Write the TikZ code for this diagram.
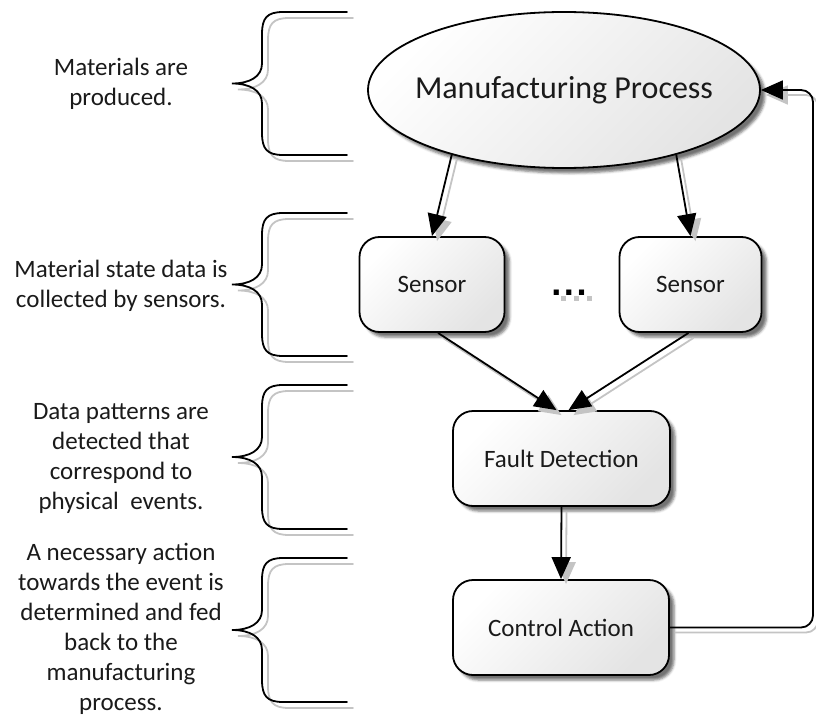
\documentclass[tikz,border=0pt]{standalone}
\usepackage{fontspec}
\setmainfont{Carlito}
\newfontfamily\dotfont{DejaVu Sans}
\usetikzlibrary{arrows.meta,shapes.geometric,shadows.blur}

\definecolor{shadowgray}{HTML}{C4C4C4}
\definecolor{fillend}{HTML}{E4E4E4}
\definecolor{inkgray}{HTML}{1A1A1A}

% curly brace opening to the right; #2 = top y, #3 = bottom y
\newcommand{\bracestroke}[3]{%
  \pgfmathsetmacro{\bmid}{(#2+#3)/2}%
  \draw[#1] (347,#2) -- (283,#2)
    .. controls (267,#2) and (262,#2+6) .. (262,#2+22)
    -- (262,\bmid-20)
    .. controls (262,\bmid-7) and (250,\bmid) .. (232,\bmid)
    .. controls (250,\bmid) and (262,\bmid+7) .. (262,\bmid+20)
    -- (262,#3-22)
    .. controls (262,#3-6) and (267,#3) .. (283,#3)
    -- (347,#3);
}
\newcommand{\curlybrace}[2]{%
  \bracestroke{braceshadow}{#1}{#2}%
  \bracestroke{braceline}{#1}{#2}%
}

\begin{document}
\begin{tikzpicture}[x=1pt,y=-1pt,
  every node/.style={font=\fontsize{25}{30}\selectfont, text=inkgray},
  lbl/.style={align=center, inner sep=0pt},
  braceline/.style={line width=1.8pt, line cap=round},
  braceshadow/.style={shadowgray, line width=1.8pt, line cap=round,
    transform canvas={shift={(6pt,-6pt)}}},
  nodefill/.style={draw=black, line width=1.8pt, top color=white,
    bottom color=fillend, shading angle=45,
    blur shadow={shadow xshift=5pt, shadow yshift=-5pt,
      shadow blur radius=2.5pt, shadow opacity=55}},
  stepbox/.style={nodefill, rectangle, rounded corners=20pt,
    minimum height=95pt, inner sep=0pt},
  tipshape/.style={-{Triangle[length=22pt,width=19pt]}},
  arr/.style={line width=1.8pt, tipshape},
  arrshadow/.style={shadowgray, line width=1.8pt, tipshape,
    transform canvas={shift={(5pt,-5pt)}}},
  dotshadow/.style={fill=shadowgray, minimum size=5pt, inner sep=0pt},
]
\useasboundingbox (0,0) rectangle (816,722);

% ---- braces and their captions ----
\curlybrace{12}{155}
\curlybrace{213}{356}
\curlybrace{385}{529}
\curlybrace{558}{702}

\node[lbl] (t1) at (121,84) {Materials are\\produced.};
\node[lbl] (t2) at (121,286) {Material state data is\\collected by sensors.};
\node[lbl] (t3) at (121,458) {Data patterns are\\detected that\\correspond to\\physical~ events.};
\node[lbl] (t4) at (121,629) {A necessary action\\towards the event is\\determined and fed\\back to the\\manufacturing\\process.};

% ---- process nodes ----
\node[nodefill, ellipse, minimum width=392pt, minimum height=156pt,
  inner sep=0pt] (E) at (564,90) {};
\node[font=\fontsize{32}{36}\selectfont, inner sep=0pt] (Etext) at (E.center)
  {Manufacturing Process};
\node[stepbox, minimum width=145pt] (S1) at (432,284.5) {Sensor};
\node[stepbox, minimum width=142pt] (S2) at (690.5,284.5) {Sensor};
\node[stepbox, minimum width=217pt] (F) at (561.5,458.5) {Fault Detection};
\node[stepbox, minimum width=216pt] (C) at (561,627.5) {Control Action};

% ellipsis between the sensors, with its drop shadow
\node[dotshadow] (d1) at (563,298) {};
\node[dotshadow] (d2) at (576,298) {};
\node[dotshadow] (d3) at (589,298) {};
\node[font=\dotfont\bfseries\fontsize{29}{32}\selectfont, text=black,
  anchor=base, inner sep=0pt] (dots) at (569,295)
  {.\hspace{1.5pt}.\hspace{1.5pt}.};

\coordinate (cr) at (813,90);

% ---- connector shadows ----
\draw[arrshadow] (E.210) -- (S1.north);
\draw[arrshadow] (E.330) -- (S2.north);
\draw[arrshadow] ([xshift=6pt]S1.south) -- ([xshift=-5pt]F.north);
\draw[arrshadow] ([xshift=-2pt]S2.south) -- ([xshift=7pt]F.north);
\draw[arrshadow] (F.south) -- (C.north);
\draw[arrshadow, rounded corners=12pt] (C.east) -| (cr) -- (E.east);

% ---- connectors ----
\draw[arr] (E.210) -- (S1.north);
\draw[arr] (E.330) -- (S2.north);
\draw[arr] ([xshift=6pt]S1.south) -- ([xshift=-5pt]F.north);
\draw[arr] ([xshift=-2pt]S2.south) -- ([xshift=7pt]F.north);
\draw[arr] (F.south) -- (C.north);
\draw[arr, rounded corners=12pt] (C.east) -| (cr) -- (E.east);
\end{tikzpicture}
\end{document}
